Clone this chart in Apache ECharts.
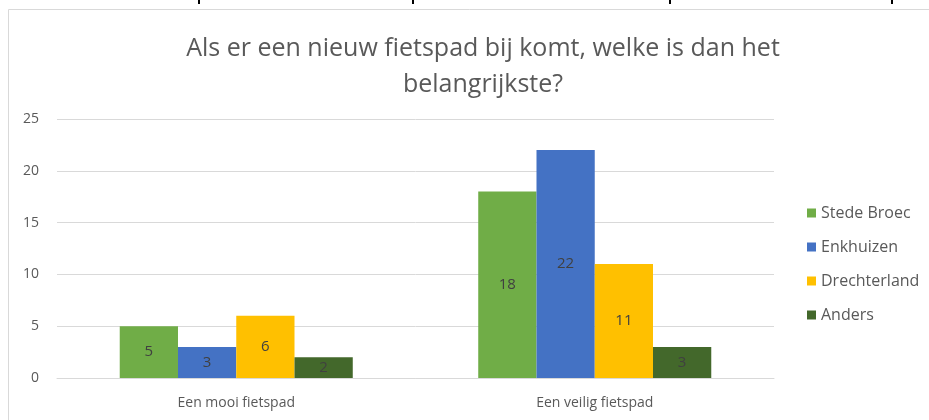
<!DOCTYPE html>
<html>
<head>
<meta charset="utf-8">
<script src="https://cdn.jsdelivr.net/npm/echarts@6/dist/echarts.min.js"></script>
<style>
  html, body { margin: 0; padding: 0; background: #fff; }
  #chart { width: 929px; height: 420px; }
</style>
</head>
<body>
<div id="chart"></div>
<script>
const categories = ["Een mooi fietspad", "Een veilig fietspad"];
const seriesNames = ["Stede Broec", "Enkhuizen", "Drechterland", "Anders"];
const stedeBroec = [5, 18];
const enkhuizen = [3, 22];
const drechterland = [6, 11];
const anders = [2, 3];
const colors = ["#70AD47", "#4472C4", "#FFC000", "#43682B"];

const el = document.getElementById("chart");
const chart = echarts.init(el);

const font = "'Open Sans', 'Noto Sans', sans-serif";
const values = [stedeBroec, enkhuizen, drechterland, anders];

const series = seriesNames.map((name, i) => ({
    name: name,
    type: "bar",
    data: values[i],
    itemStyle: { color: colors[i] },
    barGap: "0%",
    barCategoryGap: "35%",
    label: {
        show: true,
        position: "inside",
        color: "#404040",
        fontSize: 15,
        fontFamily: font,
    },
}));

// page fragments above the chart box
const ticks = [199, 413, 670, 892].map((x) => ({
    type: "line",
    shape: { x1: x, y1: 0, x2: x, y2: 4 },
    style: { stroke: "#000", lineWidth: 2 },
}));

const option = {
    animation: false,
    textStyle: { fontFamily: font },
    title: {
        text: "Als er een nieuw fietspad bij komt, welke is dan het\nbelangrijkste?",
        left: 478,
        textAlign: "center",
        top: 26,
        textStyle: {
            color: "#595959",
            fontSize: 25,
            fontWeight: "normal",
            lineHeight: 36,
            fontFamily: font,
        },
    },
    graphic: [
        {
            type: "rect",
            shape: { x: 8.5, y: 9.5, width: 940, height: 430 },
            style: { fill: "none", stroke: "#D9D9D9", lineWidth: 1 },
        },
        ...ticks,
    ],
    legend: {
        orient: "vertical",
        left: 802,
        top: 199,
        itemWidth: 9,
        itemHeight: 9,
        itemGap: 16,
        icon: "rect",
        textStyle: { color: "#595959", fontSize: 16, fontFamily: font, lineHeight: 18 },
        data: seriesNames,
    },
    grid: { left: 57, right: 155, top: 119, bottom: 42, containLabel: false },
    xAxis: {
        type: "category",
        data: categories,
        axisLine: { lineStyle: { color: "#D9D9D9" } },
        axisTick: { show: false },
        axisLabel: { color: "#595959", fontSize: 14, margin: 18, fontFamily: font },
    },
    yAxis: {
        type: "value",
        min: 0,
        max: 25,
        interval: 5,
        axisLine: { show: false },
        axisTick: { show: false },
        splitLine: { lineStyle: { color: "#D9D9D9" } },
        axisLabel: { color: "#595959", fontSize: 14, margin: 18, fontFamily: font },
    },
    series: series,
};

chart.setOption(option);
window.addEventListener("resize", () => chart.resize());
</script>
</body>
</html>
